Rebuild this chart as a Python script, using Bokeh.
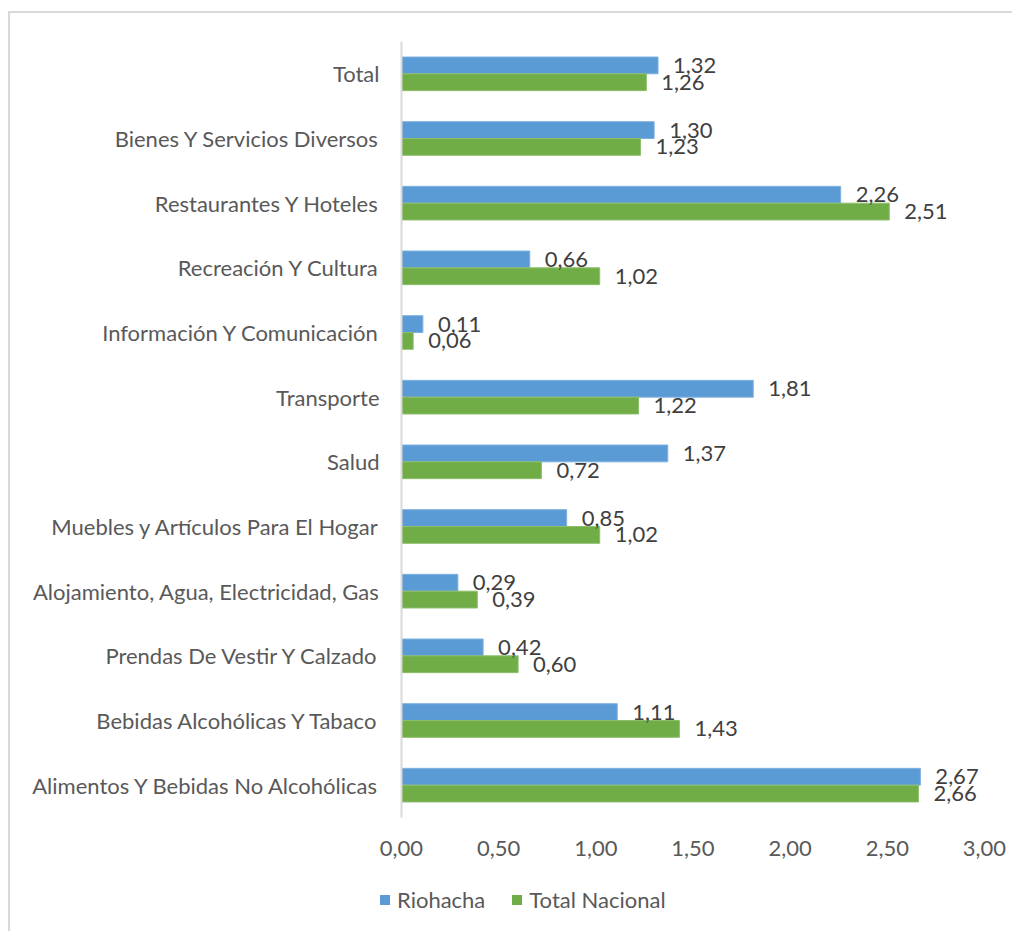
from bokeh.plotting import figure
from bokeh.layouts import column
from bokeh.models import ColumnDataSource, FactorRange, CustomJSTickFormatter, Div
from bokeh.transform import dodge
from bokeh.core.properties import value
from bokeh.embed import file_html
from bokeh.resources import INLINE

categories = [
    "Total",
    "Bienes Y Servicios Diversos",
    "Restaurantes Y Hoteles",
    "Recreación Y Cultura",
    "Información Y Comunicación",
    "Transporte",
    "Salud",
    "Muebles y Artículos Para El Hogar",
    "Alojamiento, Agua, Electricidad, Gas",
    "Prendas De Vestir Y Calzado",
    "Bebidas Alcohólicas Y Tabaco",
    "Alimentos Y Bebidas No Alcohólicas",
]
riohacha = [1.32, 1.30, 2.26, 0.66, 0.11, 1.81, 1.37, 0.85, 0.29, 0.42, 1.11, 2.67]
total_nacional = [1.26, 1.23, 2.51, 1.02, 0.06, 1.22, 0.72, 1.02, 0.39, 0.60, 1.43, 2.66]
series_names = ["Riohacha", "Total Nacional"]
x_ticks = [0, 0.5, 1.0, 1.5, 2.0, 2.5, 3.0]

FONT = "Lato"
FS = "22px"
BLUE = "#5B9BD5"
GREEN = "#70AD47"
BORDER = "2px solid #d9d9d9"

def fmt(v):
    return f"{v:.2f}".replace(".", ",")

src = ColumnDataSource(dict(
    cat=categories,
    rio=riohacha,
    nac=total_nacional,
    rio_lbl=[fmt(v) for v in riohacha],
    nac_lbl=[fmt(v) for v in total_nacional],
))

p = figure(
    frame_width=581, frame_height=774,
    y_range=FactorRange(factors=list(reversed(categories)), range_padding=0),
    x_range=(0, 3),
    output_backend="svg", toolbar_location=None,
    min_border_left=391, min_border_right=30, min_border_top=28, min_border_bottom=50,
)
p.margin = (11, 0, 0, 8)
p.styles = {"border-left": BORDER, "border-top": BORDER}

r1 = p.hbar(y=dodge("cat", 0.13, range=p.y_range), left=0, right="rio", height=0.26,
            source=src, fill_color=BLUE, line_color="#7EB0DF", line_width=1)
r2 = p.hbar(y=dodge("cat", -0.13, range=p.y_range), left=0, right="nac", height=0.26,
            source=src, fill_color=GREEN, line_color="#8DBE6C", line_width=1)

p.text(x="rio", y=dodge("cat", 0.13, range=p.y_range), text="rio_lbl", source=src,
       x_offset=15, text_baseline="middle", text_align="left",
       text_font=value(FONT), text_font_size=FS, text_color="#404040")
p.text(x="nac", y=dodge("cat", -0.13, range=p.y_range), text="nac_lbl", source=src,
       x_offset=15, text_baseline="middle", text_align="left",
       text_font=value(FONT), text_font_size=FS, text_color="#404040")

p.xgrid.visible = False
p.ygrid.visible = False
p.outline_line_color = None

p.xaxis.ticker = x_ticks
p.xaxis.formatter = CustomJSTickFormatter(code="return tick.toFixed(2).replace('.', ',');")
p.xaxis.axis_line_color = None
p.xaxis.major_tick_line_color = None
p.xaxis.minor_tick_line_color = None
p.xaxis.major_label_standoff = 17
p.xaxis.major_label_text_font = FONT
p.xaxis.major_label_text_font_size = FS
p.xaxis.major_label_text_color = "#595959"

p.yaxis.axis_line_color = "#d9d9d9"
p.yaxis.axis_line_width = 2
p.yaxis.major_tick_line_color = None
p.yaxis.minor_tick_line_color = None
p.yaxis.major_label_standoff = 16
p.yaxis.major_label_text_font = FONT
p.yaxis.major_label_text_font_size = FS
p.yaxis.major_label_text_color = "#595959"

# legend strip below the chart (HTML text)
def legend_item(name, color, first):
    gap = "0" if first else "27px"
    return (f'<span style="display:inline-block;width:10px;height:10px;background:{color};'
            f'margin-left:{gap};vertical-align:middle"></span>'
            f'<span style="margin-left:7px;vertical-align:middle">{name}</span>')

items_html = "".join(legend_item(n, c, i == 0)
                     for i, (n, c) in enumerate(zip(series_names, [BLUE, GREEN])))
legend_div = Div(
    text=(f'<div style="margin-left:370px;margin-top:20px;font-family:{FONT};font-size:{FS};'
          f'color:#595959;line-height:26px;white-space:nowrap">{items_html}</div>'),
    width=1002, height=66,
)
legend_div.margin = (0, 0, 0, 8)
legend_div.styles = {"border-left": BORDER}

layout = column(p, legend_div, spacing=0)
open("out.html", "w").write(file_html(layout, INLINE))
